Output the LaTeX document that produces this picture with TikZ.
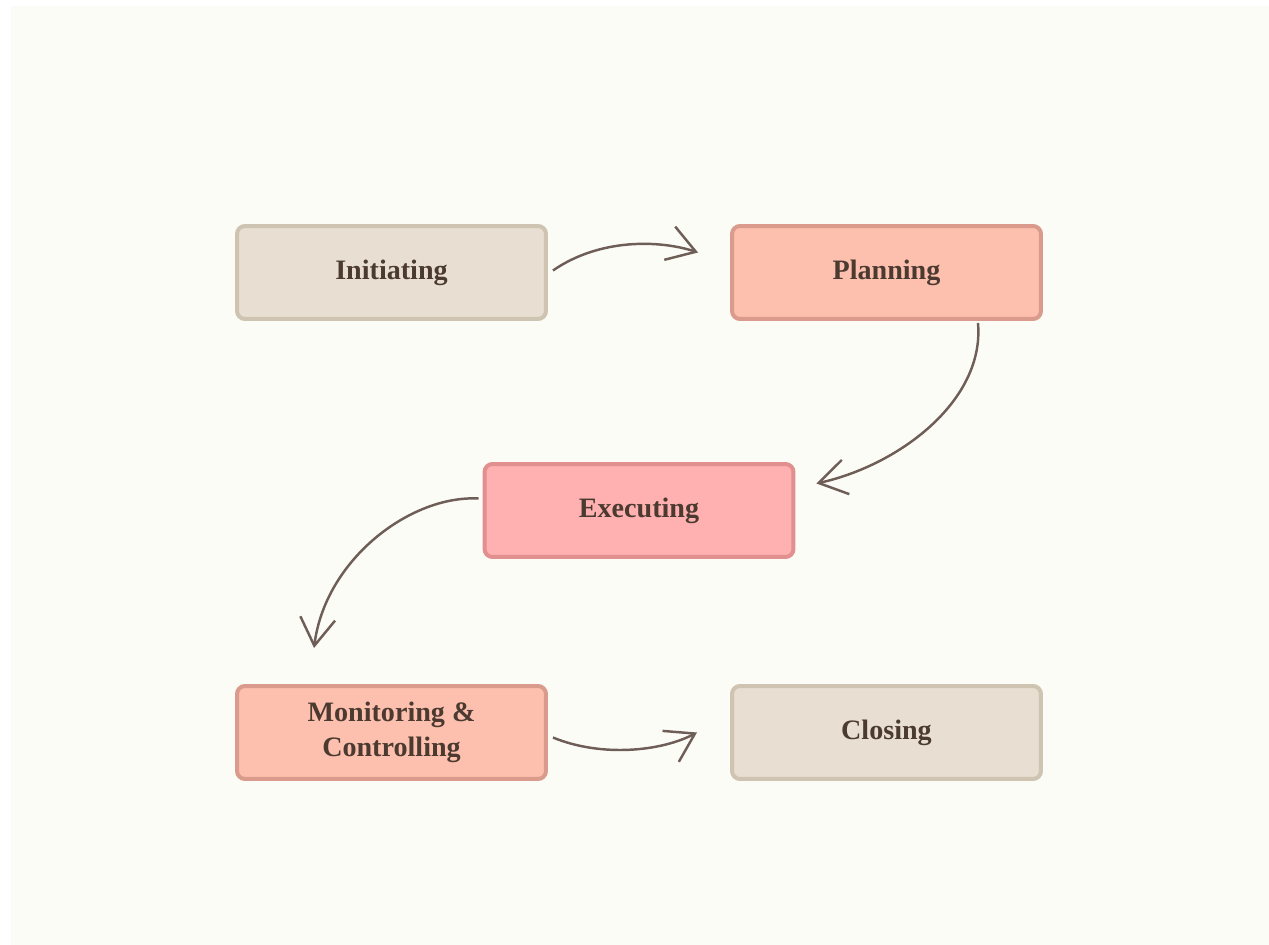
\documentclass[tikz,border=0pt]{standalone}
\usepackage{fontspec}
\setmainfont{Liberation Serif}
\usepackage{xcolor}
\usepackage{tikz}
\usetikzlibrary{arrows.meta,calc}

\definecolor{paper}{HTML}{FBFCF5}
\definecolor{sand}{HTML}{E8DFD2}
\definecolor{sandline}{HTML}{CFC3B2}
\definecolor{salmon}{HTML}{FDBFAE}
\definecolor{salmonline}{HTML}{DA9B8C}
\definecolor{rose}{HTML}{FFB0B0}
\definecolor{roseline}{HTML}{E18F8F}
\definecolor{ink}{HTML}{4B3A30}
\definecolor{pencil}{HTML}{6E5E57}

\begin{document}
\begin{tikzpicture}[x=0.02cm, y=-0.02cm, line/.style={-{Straight Barb[length=5.5mm,width=7mm]}, draw=pencil, line width=1.4pt}, phase/.style={rectangle, rounded corners=0.16cm, line width=0.08cm, minimum width=6.18cm, minimum height=1.86cm, inner sep=0, align=center, text=ink, font=\fontsize{16}{20}\selectfont\bfseries}]

  \useasboundingbox (0,0) rectangle (1269,945);
  \fill[white] (0,0) rectangle (1269,945);
  \fill[paper] (11,6) rectangle (1269,945);

  \node[phase, fill=sand, draw=sandline]     (phaseInitiating) at (391.5,272.5) {Initiating};
  \node[phase, fill=salmon, draw=salmonline] (phasePlanning)   at (886.5,272.5) {Planning};
  \node[phase, fill=rose, draw=roseline]     (phaseExecuting)  at (639,510.5)   {Executing};
  \node[phase, fill=salmon, draw=salmonline] (phaseMonitoring) at (391.5,732.5) {Monitoring \&\\Controlling};
  \node[phase, fill=sand, draw=sandline]     (phaseClosing)    at (886.5,732.5) {Closing};

  \draw [line] ($(phaseInitiating.east)+(5,-2)$) .. controls (600,238) and (660,240) .. ($(phasePlanning.west)+(-32,-20)$);
  \draw [line] ($(phasePlanning.south east)+(-65,2)$) .. controls (985,400) and (900,465) .. ($(phaseExecuting.east)+(21,-27)$);
  \draw [line] ($(phaseExecuting.west)+(-4,-12)$) .. controls (410,495) and (325,560) .. ($(phaseMonitoring.north west)+(79,-36)$);
  \draw [line] ($(phaseMonitoring.east)+(5,5)$) .. controls (600,757) and (660,752) .. ($(phaseClosing.west)+(-33,0)$);

\end{tikzpicture}
\end{document}
